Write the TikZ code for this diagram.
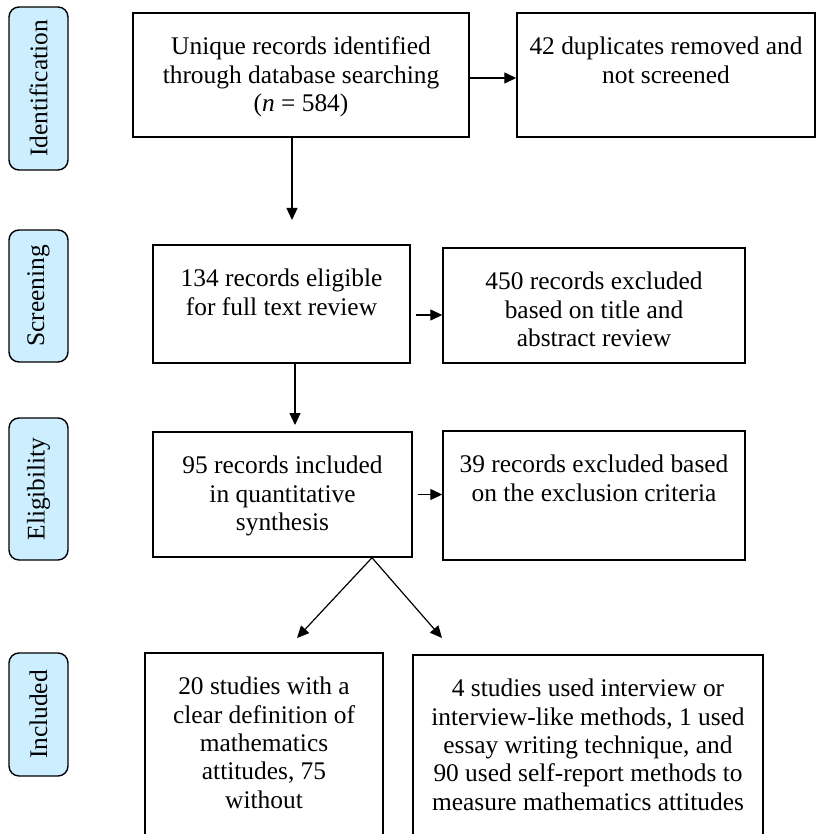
\documentclass[tikz,border=0pt]{standalone}
\usepackage{fontspec}
\setmainfont{Liberation Serif}
\usetikzlibrary{arrows.meta}
\definecolor{phasefill}{HTML}{CCEEFF}
% text block, pinned to the top of its box
\newcommand{\boxtext}[3]{\parbox[c][#2][t]{#1}{\centering\vspace*{12pt}#3}}
\begin{document}
\begin{tikzpicture}[x=0.5pt,y=-0.5pt,
    font=\fontsize{12.7}{14.2}\selectfont,
    box/.style={draw,line width=0.7pt,inner sep=0pt},
    phase/.style={draw,line width=0.7pt,fill=phasefill,rounded corners=5pt,
        rotate=90,minimum height=29.5pt,inner sep=0pt},
    arr/.style={-{Triangle[length=6pt,width=5.5pt]},line width=0.6pt}]
\useasboundingbox (0,0) rectangle (817,834);
\clip (0,0) rectangle (817,834);
% phases
\node[phase,minimum width=81.5pt] (pid) at (38.5,88.5) {Identification};
\node[phase,minimum width=66pt] (pscr) at (38.5,296) {Screening};
\node[phase,minimum width=71pt] (pelg) at (38.5,489) {Eligibility};
\node[phase,minimum width=61.5pt] (pinc) at (38.5,714.5) {Included};
% identification
\node[box] (id1) at (301,75) {\boxtext{168pt}{62pt}{Unique records identified\\through database searching\\(\textit{n} = 584)}};
\node[box] (dup) at (666,75) {\boxtext{149pt}{62pt}{42 duplicates removed and\\not screened}};
% screening
\node[box] (elig) at (281.5,304) {\boxtext{128.5pt}{59pt}{134 records eligible\\for full text review}};
\node[box] (excl1) at (594,305.5) {\boxtext{151pt}{57.5pt}{450 records excluded\\based on title and\\abstract review}};
% eligibility
\node[box] (incl) at (282.5,494.5) {\boxtext{129.5pt}{62.5pt}{95 records included\\in quantitative\\synthesis}};
\node[box] (excl2) at (594,495.5) {\boxtext{151pt}{64.5pt}{39 records excluded based\\on the exclusion criteria}};
% included (cut by the lower edge)
\node[box] (defs) at (264,751.5) {\boxtext{119pt}{98.5pt}{20 studies with a\\clear definition of\\mathematics\\attitudes, 75\\without}};
\node[box] (meth) at (588,752.5) {\boxtext{175pt}{97.5pt}{4 studies used interview or\\interview-like methods, 1 used\\essay writing technique, and\\90 used self-report methods to\\measure mathematics attitudes}};
% arrows
\draw[arr] ([yshift=-1.5pt]id1.east) -- ([yshift=-1.5pt]dup.west);
\coordinate (t1) at (292,220);
\draw[arr] (t1 |- id1.south) -- (t1);
\coordinate (s1) at ([yshift=-5.5pt]elig.east);
\draw[arr] ([xshift=2.5pt]s1) -- (s1 -| excl1.west);
\coordinate (t2) at (295,425);
\draw[arr] (t2 |- elig.south) -- (t2);
\draw[arr] ([xshift=2.5pt]incl.east) -- (incl.east -| excl2.west);
\coordinate (fork) at (372,558);
\coordinate (tl) at (297,638);
\coordinate (tr) at (442,638);
\draw[arr] (fork |- incl.south) -- (tl);
\draw[arr] (fork |- incl.south) -- (tr);
\end{tikzpicture}
\end{document}
